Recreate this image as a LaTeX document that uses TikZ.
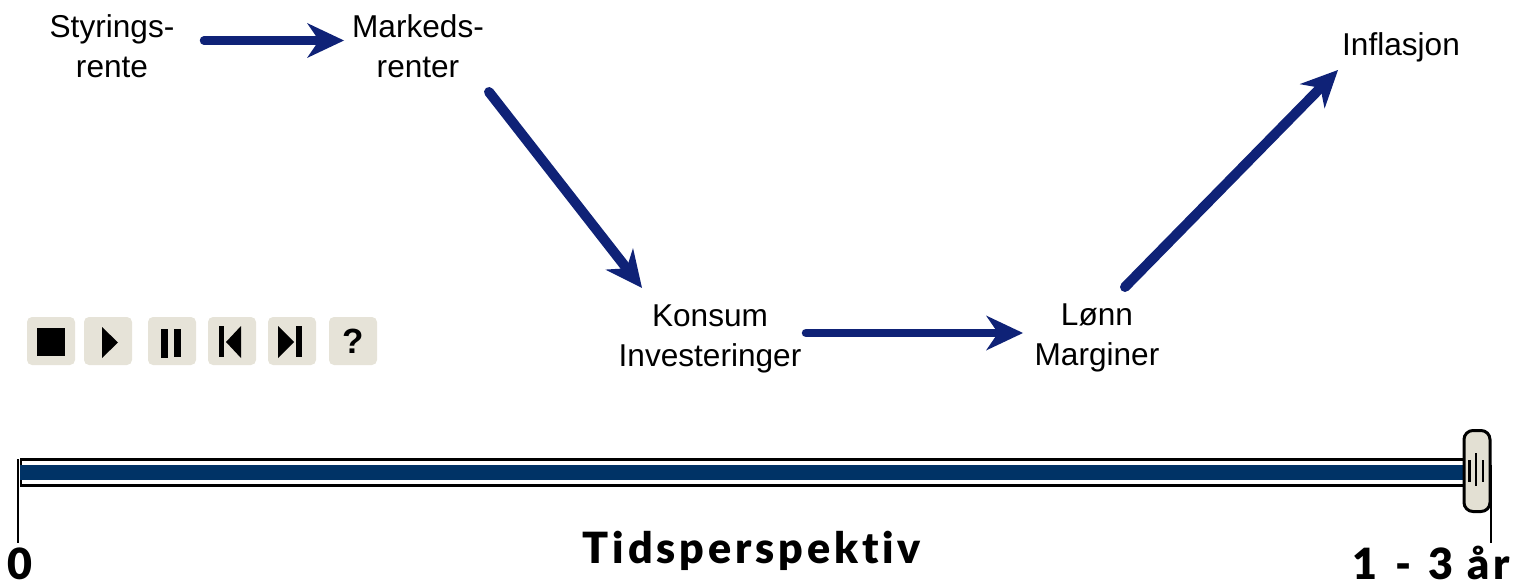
\documentclass[tikz,border=0pt]{standalone}
\usepackage{fontspec}
\setmainfont{Liberation Sans}
\newfontfamily\scalefont[LetterSpace=9,Ligatures=NoCommon]{Lato Black}
\usetikzlibrary{arrows.meta}
\definecolor{flowblue}{HTML}{0F2277}
\definecolor{barblue}{HTML}{003366}
\definecolor{btn}{HTML}{E6E3D8}
\definecolor{handle}{HTML}{E3E0D3}
\tikzset{
  x=1pt,y=-1pt,
  lbl/.style={align=center,inner sep=0pt,font=\fontsize{31.6}{40.5}\selectfont,text=black},
  flow/.style={draw=flowblue,line width=8.5pt,line cap=round,
    -{Stealth[length=37pt,width=35pt,inset=12pt,line width=0pt,fill=flowblue]}},
  flowdiag/.style={flow,line width=10pt},
  btnbox/.style={fill=btn,rounded corners=5pt},
  icon/.style={fill=black},
  scaletext/.style={inner sep=0pt,anchor=base,font=\fontsize{43}{43}\scalefont\selectfont,text=black},
  tickline/.style={draw=black,line width=1.4pt},
  grip/.style={draw=black,line width=2.6pt}
}
\begin{document}
\begin{tikzpicture}
\useasboundingbox (0,0) rectangle (1516,583);
% labels
\node[lbl] (styr) at (112,46) {Styrings-\\rente};
\node[lbl] (mark) at (418,46) {Markeds-\\renter};
\node[lbl] (infl) at (1401,47) {Inflasjon};
\node[lbl] (kons) at (710,339) {Konsum\\Investeringer};
\node[lbl] (lonn) at (1097,338) {Lønn\\Marginer};
% connectors
\draw[flow] ([shift={(92,-5.5)}]styr.center) -- ([shift={(-74,-5.5)}]mark.center);
\draw[flowdiag] ([shift={(71,46)}]mark.center) -- ([shift={(-68,-51)}]kons.center);
\draw[flow] ([shift={(96,-6)}]kons.center) -- ([shift={(-74,-5)}]lonn.center);
\draw[flowdiag] ([shift={(28,-51)}]lonn.center) -- ([shift={(-63,23)}]infl.center);
% buttons
\fill[btnbox] (27,317) rectangle (75,365);
\fill[btnbox] (84,317) rectangle (132,365);
\fill[btnbox] (148,317) rectangle (196,365);
\fill[btnbox] (208,317) rectangle (256,365);
\fill[btnbox] (268,317) rectangle (316,365);
\fill[btnbox] (329,317) rectangle (377,365);
\fill[icon] (37,328) rectangle (65,356);
\fill[icon] (102,327) -- (118,342.5) -- (102,358) -- cycle;
\fill[icon] (161,329) rectangle (168,358);
\fill[icon] (174,329) rectangle (181,357);
\fill[icon] (219,326) rectangle (224,357);
\fill[icon] (241,326) -- (226,342) -- (241,358) -- cycle;
\fill[icon] (278,326) -- (294,342) -- (278,358) -- cycle;
\fill[icon] (296,326) rectangle (302,357);
\node[inner sep=0pt,font=\fontsize{35}{35}\bfseries\selectfont] (help) at (353,341) {?};
% time bar
\draw[tickline] (18,459) -- (18,543);
\draw[tickline] (1491,465) -- (1491,543);
\draw[black,line width=2.5pt,fill=white] (21,459.5) rectangle (1465,485.5);
\fill[barblue] (20,465) rectangle (1465,480);
\draw[black,line width=3pt,fill=handle,rounded corners=9pt] (1464,430.5) rectangle (1490,511.5);
\draw[grip] (1469.5,460) -- (1469.5,482);
\draw[grip] (1476,453) -- (1476,486);
\draw[grip] (1483,460) -- (1483,482);
% scale text
\node[scaletext] (zero) at (19.5,579.5) {0};
\node[scaletext] (title) at (752,563) {Tidsperspektiv};
\node[scaletext,anchor=base east] (end) at (1510,579.5) {1\hspace{4pt} - \hspace{3pt}3 år};
\end{tikzpicture}
\end{document}
